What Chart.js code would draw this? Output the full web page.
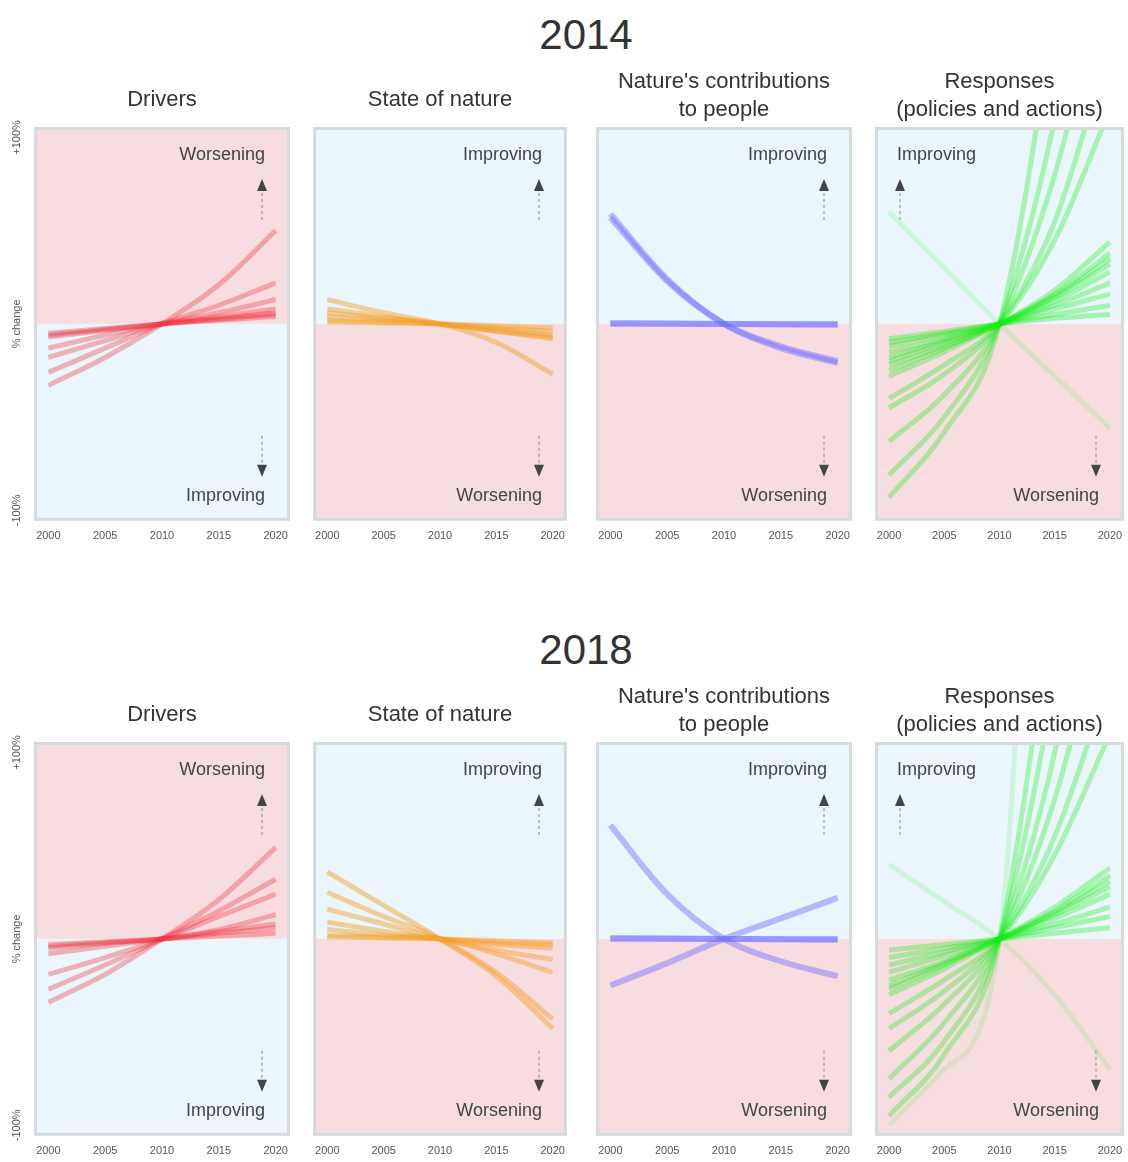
<!DOCTYPE html>
<html>
<head>
<meta charset="utf-8">
<title>Indicator trends 2014 / 2018</title>
<script src="https://cdn.jsdelivr.net/npm/chart.js@4.4.1/dist/chart.umd.min.js"></script>
<style>
    html, body { margin: 0; padding: 0; background: #fff; overflow: hidden; }
    #wrap { position: relative; width: 1128px; height: 1162px; overflow: hidden; }
    #wrap canvas { position: absolute; }
    .year {
        position: absolute; left: 486px; width: 200px; text-align: center;
        font: 42px "Liberation Sans", Arial, sans-serif; line-height: 42px; color: #333;
    }
</style>
</head>
<body>
<div id="wrap">
    <div class="year" id="year0" style="top:14px"></div>
    <div class="year" id="year1" style="top:629px"></div>
</div>
<script>
'use strict';

// ===== DATA =====
const YEARS = [2000, 2005, 2010, 2015, 2020];
const X_TICKS = [2000, 2005, 2010, 2015, 2020];
const Y_TICKS = [100, 0, -100];
const Y_LABELS = ['+100%', '% change', '-100%'];
const YEAR_TITLES = ['2014', '2018'];
const PANEL_TITLES = [
    'Drivers',
    'State of nature',
    ["Nature's contributions", 'to people'],
    ['Responses', '(policies and actions)']
];

// % change of each indicator, one row per indicator (values at YEARS)
const drivers2014 = [
    [-33, -18, 0, 21, 50],
    [-26, -13, 0, 10, 22],
    [-18, -9, 0, 6, 13],
    [-13, -6, 0, 4, 8],
    [-7, -3.5, 0, 3, 6],
    [-6, -3, 0, 2, 4],
    [-5, -2.5, 0, 2.5, 5]
];
const state2014 = [
    [13, 6, 0, -10, -27],
    [8, 4, 0, -4, -8],
    [6, 3, 0, -4, -7],
    [4, 2, 0, -3, -6],
    [2, 1, 0, -2, -4],
    [1, 0.5, 0, -1, -2]
];
const ncp2014 = [
    [59, 24, 0, -13, -21],
    [57, 23, 0, -12, -20],
    [0, 0, 0, 0, 0],
    [0.5, 0.3, 0, -0.3, -0.5]
];
const responses2014 = [
    [-93, -58, 0, 170, 400],
    [-81, -50, 0, 110, 280],
    [-63, -38, 0, 80, 200],
    [-45, -27, 0, 55, 150],
    [-40, -22, 0, 45, 115],
    [-28, -15, 0, 18, 44],
    [-25, -13, 0, 16, 38],
    [-22, -12, 0, 15, 35],
    [-20, -10, 0, 14, 32],
    [-18, -9, 0, 12, 28],
    [-15, -8, 0, 10, 22],
    [-12, -6, 0, 8, 16],
    [-10, -5, 0, 5, 10],
    [-8, -4, 0, 3, 5]
];
const responses2014Faint = [
    [60, 30, 0, -28, -56]
];

const drivers2018 = [
    [-34, -19, 0, 21, 49],
    [-27, -14, 0, 15, 32],
    [-19, -10, 0, 12, 24],
    [-8, -4, 0, 4, 8],
    [-5, -2.5, 0, 3, 6],
    [-4, -2, 0, 5, 13],
    [-3, -1.5, 0, 1.5, 3]
];
const state2018 = [
    [36, 18, 0, -20, -48],
    [25, 12, 0, -18, -43],
    [16, 8, 0, -6, -11],
    [9, 4, 0, -3, -5],
    [5, 2, 0, -8, -18],
    [2, 1, 0, -2, -3],
    [1, 0.5, 0, -1, -2]
];
const ncp2018 = [
    [61, 24, 0, -12, -20],
    [-25, -13, 0, 11, 22],
    [0, 0, 0, 0, 0],
    [0.5, 0.3, 0, -0.3, -0.5]
];
const responses2018 = [
    [-95, -62, 0, 200, 500],
    [-85, -55, 0, 140, 350],
    [-75, -45, 0, 100, 260],
    [-60, -35, 0, 75, 190],
    [-48, -28, 0, 55, 140],
    [-40, -22, 0, 45, 110],
    [-30, -16, 0, 17, 38],
    [-27, -14, 0, 15, 34],
    [-25, -13, 0, 14, 31],
    [-22, -12, 0, 13, 28],
    [-18, -9, 0, 11, 24],
    [-14, -7, 0, 8, 17],
    [-10, -5, 0, 6, 12],
    [-6, -3, 0, 3, 6]
];
const responses2018Faint = [
    [-100, -70, 0, 600, 1500],
    [40, 20, 0, -30, -70]
];

// ===== STYLES =====
const FONT = '"Liberation Sans", Arial, sans-serif';
const PINK_BG = '#f8dde0';
const BLUE_BG = '#eaf6fb';
const FRAME = '#d3dbde';
const RED = 'rgba(240, 50, 60, 0.35)';
const ORANGE = 'rgba(245, 160, 40, 0.45)';
const BLUE = 'rgba(110, 110, 255, 0.45)';
const GREEN = 'rgba(20, 235, 20, 0.32)';
const GREEN_FAINT = 'rgba(20, 235, 20, 0.13)';

const COL_LEFT = [37, 316, 599, 878];
const COL_WIDTH = [250, 248, 250, 243];
const ROW_TOP = [62, 677];
const CANVAS_H = 493;

const ROWS = [
    [
        { lines: drivers2014, color: RED, width: 5, worseTop: true },
        { lines: state2014, color: ORANGE, width: 5 },
        { lines: ncp2014, color: BLUE, width: 6 },
        { lines: responses2014, faint: responses2014Faint, color: GREEN, width: 5, leftArrow: true }
    ],
    [
        { lines: drivers2018, color: RED, width: 5, worseTop: true },
        { lines: state2018, color: ORANGE, width: 5 },
        { lines: ncp2018, color: BLUE, width: 6 },
        { lines: responses2018, faint: responses2018Faint, color: GREEN, width: 5, leftArrow: true }
    ]
];

// ===== PLUGIN : FONDS, CADRE, FLECHES =====
function drawArrow(ctx, x, tipY, dir) {
    // dir = -1 points up, +1 points down
    const baseY = tipY - dir * 12;
    ctx.save();
    ctx.strokeStyle = '#8a8a8a';
    ctx.lineWidth = 1;
    ctx.setLineDash([3, 3]);
    ctx.beginPath();
    ctx.moveTo(x, baseY - dir * 2);
    ctx.lineTo(x, baseY - dir * 29);
    ctx.stroke();
    ctx.setLineDash([]);
    ctx.fillStyle = '#444';
    ctx.beginPath();
    ctx.moveTo(x, tipY);
    ctx.lineTo(x - 5, baseY);
    ctx.lineTo(x + 5, baseY);
    ctx.closePath();
    ctx.fill();
    ctx.restore();
}

const panelDecor = {
    id: 'panelDecor',
    beforeDatasetsDraw(chart, args, opts) {
        const { ctx, chartArea: { left, right, top, bottom }, scales: { y } } = chart;
        const mid = y.getPixelForValue(0);
        ctx.save();
        ctx.fillStyle = opts.worseTop ? PINK_BG : BLUE_BG;
        ctx.fillRect(left, top, right - left, mid - top);
        ctx.fillStyle = opts.worseTop ? BLUE_BG : PINK_BG;
        ctx.fillRect(left, mid, right - left, bottom - mid);
        ctx.strokeStyle = FRAME;
        ctx.lineWidth = 3;
        ctx.strokeRect(left - 1.5, top - 1.5, right - left + 3, bottom - top + 3);
        ctx.restore();
    },
    afterDatasetsDraw(chart, args, opts) {
        const { ctx, chartArea: { left, right, top, bottom }, scales: { y } } = chart;
        const topText = opts.worseTop ? 'Worsening' : 'Improving';
        const bottomText = opts.worseTop ? 'Improving' : 'Worsening';
        ctx.save();
        ctx.font = '18px ' + FONT;
        ctx.fillStyle = '#444';
        ctx.textBaseline = 'middle';
        if (opts.leftArrow) {
            ctx.textAlign = 'left';
            ctx.fillText(topText, left + 19, top + 25);
            drawArrow(ctx, left + 22, top + 49, -1);
        } else {
            ctx.textAlign = 'right';
            ctx.fillText(topText, right - 22, top + 25);
            drawArrow(ctx, right - 25, top + 49, -1);
        }
        ctx.textAlign = 'right';
        ctx.fillText(bottomText, right - 22, bottom - 22);
        drawArrow(ctx, right - 25, bottom - 41, 1);

        // étiquettes verticales de l'axe y (première colonne seulement)
        if (opts.yLabels) {
            ctx.font = '11px ' + FONT;
            ctx.fillStyle = '#555';
            ctx.textAlign = 'center';
            Y_TICKS.forEach(function(v, i) {
                ctx.save();
                ctx.translate(left - 20, y.getPixelForValue(v));
                ctx.rotate(-Math.PI / 2);
                ctx.fillText(Y_LABELS[i], 0, 0);
                ctx.restore();
            });
        }
        ctx.restore();
    }
};

// ===== CONSTRUCTION DES PANNEAUX =====
function toPoints(values) {
    return values.map(function(v, i) { return { x: YEARS[i], y: v }; });
}

function makeDatasets(panel) {
    const sets = [];
    (panel.faint || []).forEach(function(values) {
        sets.push({ data: toPoints(values), borderColor: GREEN_FAINT, borderWidth: panel.width });
    });
    panel.lines.forEach(function(values) {
        sets.push({ data: toPoints(values), borderColor: panel.color, borderWidth: panel.width });
    });
    return sets;
}

const wrap = document.getElementById('wrap');
YEAR_TITLES.forEach(function(t, i) {
    document.getElementById('year' + i).textContent = t;
});

ROWS.forEach(function(row, r) {
    row.forEach(function(panel, c) {
        const padL = c === 0 ? 37 : 16;
        const padR = 16;
        const canvas = document.createElement('canvas');
        canvas.width = padL + COL_WIDTH[c] + padR;
        canvas.height = CANVAS_H;
        canvas.style.left = (COL_LEFT[c] - padL) + 'px';
        canvas.style.top = ROW_TOP[r] + 'px';
        wrap.appendChild(canvas);

        const title = PANEL_TITLES[c];
        const twoLines = Array.isArray(title);

        new Chart(canvas, {
            type: 'line',
            data: { datasets: makeDatasets(panel) },
            plugins: [panelDecor],
            options: {
                responsive: false,
                animation: false,
                events: [],
                layout: { padding: { left: padL, right: padR, top: 0, bottom: 0 } },
                elements: {
                    point: { radius: 0 },
                    line: { cubicInterpolationMode: 'monotone', fill: false }
                },
                plugins: {
                    legend: { display: false },
                    tooltip: { enabled: false },
                    title: {
                        display: true,
                        text: title,
                        color: '#333',
                        font: { family: FONT, size: 22, weight: 'normal', lineHeight: 28 / 22 },
                        padding: twoLines ? { top: 6, bottom: 6 } : { top: 24, bottom: 16 }
                    },
                    panelDecor: {
                        worseTop: !!panel.worseTop,
                        leftArrow: !!panel.leftArrow,
                        yLabels: c === 0
                    }
                },
                scales: {
                    x: {
                        type: 'linear',
                        min: 1999,
                        max: 2021,
                        afterBuildTicks: function(axis) {
                            axis.ticks = X_TICKS.map(function(v) { return { value: v }; });
                        },
                        grid: { display: false, drawTicks: false },
                        border: { display: false },
                        ticks: {
                            padding: 12,
                            color: '#555',
                            font: { family: FONT, size: 11 },
                            maxRotation: 0,
                            callback: function(v) { return String(v); }
                        }
                    },
                    y: {
                        display: false,
                        min: -104,
                        max: 104
                    }
                }
            }
        });
    });
});
</script>
</body>
</html>
